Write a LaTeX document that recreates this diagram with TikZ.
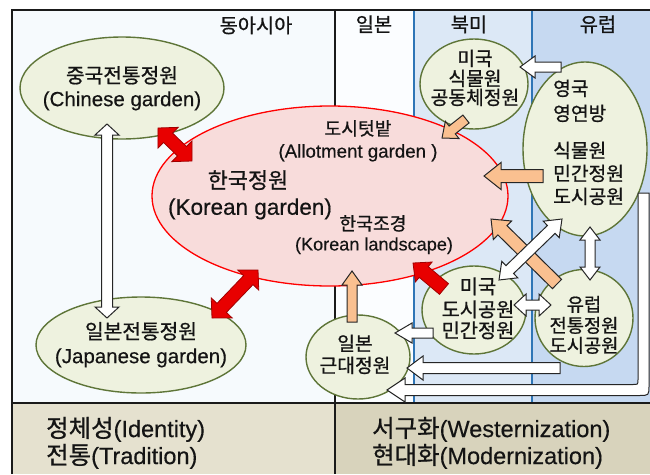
\documentclass[tikz,border=0pt]{standalone}
\usepackage{fontspec}
\setmainfont{Liberation Sans}[FakeBold=0.4]
\newfontfamily\kr{Noto Sans CJK KR}[FakeBold=0.8, Scale=1.04]
\usetikzlibrary{shapes.geometric}
\definecolor{lineK}{HTML}{1A1A1A}
\definecolor{eaBG}{HTML}{F6FAFD}
\definecolor{jpBG}{HTML}{FBFDFF}
\definecolor{naBG}{HTML}{DCE8F6}
\definecolor{euBG}{HTML}{C6D9F1}
\definecolor{botL}{HTML}{E5E1CF}
\definecolor{botR}{HTML}{D8D3BC}
\definecolor{blueL}{HTML}{2E75B6}
\definecolor{ellF}{HTML}{EEF2DF}
\definecolor{ellG}{HTML}{5E7538}
\definecolor{krF}{HTML}{F8DCDB}
\definecolor{krR}{HTML}{FF0000}
\definecolor{arRed}{HTML}{E80000}
\definecolor{arRedD}{HTML}{A00000}
\definecolor{arOr}{HTML}{FAC090}
\definecolor{arK}{HTML}{262626}
\definecolor{txt}{HTML}{141414}

\newdimen\bxa \newdimen\bya \newdimen\bxb \newdimen\byb
\newcommand\arrowgeom[2]{%
  \pgfextractx{\bxa}{\pgfpointanchor{#1}{center}}%
  \pgfextracty{\bya}{\pgfpointanchor{#1}{center}}%
  \pgfextractx{\bxb}{\pgfpointanchor{#2}{center}}%
  \pgfextracty{\byb}{\pgfpointanchor{#2}{center}}%
  \pgfmathsetmacro\barang{atan2(\byb-\bya,\bxb-\bxa)}%
  \pgfmathsetmacro\barlen{veclen(\bxb-\bxa,\byb-\bya)}}
% single block arrow: style, from, to, shaft half width, head half width, head length
\newcommand\sarrow[6]{\arrowgeom{#2}{#3}%
  \draw[#1, shift={(\bxa,\bya)}, rotate=\barang]
    (0pt,-#4pt) -- ({\barlen pt-#6pt},-#4pt) -- ({\barlen pt-#6pt},-#5pt) -- (\barlen pt,0pt)
    -- ({\barlen pt-#6pt},#5pt) -- ({\barlen pt-#6pt},#4pt) -- (0pt,#4pt) -- cycle;}
% double block arrow
\newcommand\darrow[6]{\arrowgeom{#2}{#3}%
  \draw[#1, shift={(\bxa,\bya)}, rotate=\barang]
    (0pt,0pt) -- (#6pt,#5pt) -- (#6pt,#4pt) -- ({\barlen pt-#6pt},#4pt) -- ({\barlen pt-#6pt},#5pt)
    -- (\barlen pt,0pt) -- ({\barlen pt-#6pt},-#5pt) -- ({\barlen pt-#6pt},-#4pt) -- (#6pt,-#4pt)
    -- (#6pt,-#5pt) -- cycle;}

\tikzset{
  ell/.style={ellipse, draw=ellG, fill=ellF, line width=1.4pt, inner sep=0pt},
  kell/.style={ellipse, draw=krR, fill=krF, line width=1.3pt, inner sep=0pt},
  redar/.style={fill=arRed, draw=arRedD, line width=0.8pt, line join=miter},
  orar/.style={fill=arOr, draw=arK, line width=1pt, line join=miter},
  whar/.style={fill=white, draw=arK, line width=1pt, line join=miter},
  tx/.style={font=\fontsize{#1}{#1}\selectfont, inner sep=0pt, text=txt,
    text height=\fpeval{0.8*#1}pt, text depth=\fpeval{0.2*#1}pt},
}

\begin{document}
\begin{tikzpicture}[x=1pt, y=-1pt]
\useasboundingbox (0,0) rectangle (650,474);
% backgrounds
\fill[white] (0,0) rectangle (650,474);
\fill[eaBG] (12,10) rectangle (335,403);
\fill[jpBG] (335,10) rectangle (414,403);
\fill[naBG] (414,10) rectangle (532,403);
\fill[euBG] (532,10) rectangle (650,403);
\fill[botL] (12,403) rectangle (335,474);
\fill[botR] (335,403) rectangle (650,474);
\draw[blueL, line width=1.3pt] (414,10) -- (414,403) (532,10) -- (532,403);
\draw[lineK, line width=1.6pt] (335,10) -- (335,474);
\draw[lineK, line width=2pt] (12,474) -- (12,10) -- (650,10);
\draw[lineK, line width=2pt] (12,403) -- (650,403);

% ellipses
\node[ell, minimum width=204pt, minimum height=102pt] (cn) at (122,88) {};
\node[ell, minimum width=210pt, minimum height=96pt] (jp) at (141,345) {};
\node[kell, minimum width=356pt, minimum height=180pt] (kr) at (330,196) {};
\node[ell, minimum width=108pt, minimum height=90pt] (usb) at (474,84) {};
\node[ell, minimum width=124pt, minimum height=174pt] (uk) at (585,149) {};
\node[ell, minimum width=104pt, minimum height=88pt] (usp) at (474,310) {};
\node[ell, minimum width=98pt, minimum height=97pt] (eu) at (584,318) {};
\node[ell, minimum width=104pt, minimum height=84pt] (jm) at (358,357) {};

% arrow end points
\coordinate (cjA) at (107,124);  \coordinate (cjB) at (107,318);
\coordinate (ckA) at (158,128);  \coordinate (ckB) at (192,161);
\coordinate (jkA) at (212,318);  \coordinate (jkB) at (258,270);
\coordinate (upS) at (444,289);  \coordinate (upT) at (413,263);
\coordinate (ubS) at (466,119);  \coordinate (ubT) at (442,138);
\coordinate (ukS) at (543,176);  \coordinate (ukT) at (484,176);
\coordinate (euS) at (557,284);  \coordinate (euT) at (491,219);
\coordinate (jmS) at (352,322);  \coordinate (jmT) at (352,271);
\coordinate (uuS) at (561,67);   \coordinate (uuT) at (520,67);
\coordinate (dgA) at (499,280);  \coordinate (dgB) at (562,219);
\coordinate (veA) at (590,227);  \coordinate (veB) at (590,280);
\coordinate (hoA) at (514,305);  \coordinate (hoB) at (551,305);
\coordinate (pjS) at (433,333);  \coordinate (pjT) at (395,333);
\coordinate (ejS) at (560,368);  \coordinate (ejT) at (407,368);

% arrows
\darrow{whar}{cjA}{cjB}{5.5}{12}{11}
\darrow{redar}{ckA}{ckB}{6.5}{14.5}{14}
\darrow{redar}{jkA}{jkB}{6.5}{14.5}{14}
\sarrow{redar}{upS}{upT}{7}{13}{14}
\sarrow{orar}{ubS}{ubT}{5}{11}{13}
\sarrow{orar}{ukS}{ukT}{6.5}{13.5}{17}
\sarrow{orar}{euS}{euT}{6.5}{13}{16}
\sarrow{orar}{jmS}{jmT}{5}{10}{14}
\sarrow{whar}{uuS}{uuT}{5}{11}{15}
\darrow{whar}{dgA}{dgB}{5.5}{11.5}{15}
\darrow{whar}{veA}{veB}{5}{10}{13}
\darrow{whar}{hoA}{hoB}{5}{11}{12}
\sarrow{whar}{pjS}{pjT}{5}{10}{17}
\sarrow{whar}{ejS}{ejT}{5.5}{12}{16}
% bent arrow from UK down and back to Japan
\draw[whar] (387,390) -- (405,378) -- (405,384.5) -- (633,384.5) .. controls (638,384.5) .. (638,379.5)
  -- (638,193) -- (649,193) -- (649,385.5) .. controls (649,395.5) .. (639,395.5)
  -- (405,395.5) -- (405,402) -- cycle;

% headers
\node[tx=19] (hEA) at (256,27) {\kr 동아시아};
\node[tx=19] (hJP) at (374,26) {\kr 일본};
\node[tx=19] (hNA) at (469,26) {\kr 북미};
\node[tx=19] (hEU) at (598,26) {\kr 유럽};

% texts
\node[tx=19.5] (cn1) at (122,77) {\kr 중국전통정원};
\node[tx=20.5] (cn2) at (122,100) {(Chinese garden)};
\node[tx=19.5] (jp1) at (141,333) {\kr 일본전통정원};
\node[tx=20.5] (jp2) at (141,357) {(Japanese garden)};
\node[tx=21] (kr1) at (248,182) {\kr 한국정원};
\node[tx=22.5] (kr2) at (250,208) {(Korean garden)};
\node[tx=17.5] (al1) at (358,130) {\kr 도시텃밭};
\node[tx=18.7] (al2) at (358,152) {(Allotment garden )};
\node[tx=17.5] (ls1) at (373,225) {\kr 한국조경};
\node[tx=18.1] (ls2) at (374,245) {(Korean landscape)};
\node[tx=18.5] (ub1) at (475,60) {\kr 미국};
\node[tx=18.5] (ub2) at (475,80) {\kr 식물원};
\node[tx=18.5] (ub3) at (475,99) {\kr 공동체정원};
\node[tx=18.5, anchor=west] (uk1) at (553,90) {\kr 영국};
\node[tx=18.5, anchor=west] (uk2) at (553,115) {\kr 영연방};
\node[tx=18.5, anchor=west] (uk3) at (553,152) {\kr 식물원};
\node[tx=18.5, anchor=west] (uk4) at (553,175) {\kr 민간정원};
\node[tx=18.5, anchor=west] (uk5) at (553,198) {\kr 도시공원};
\node[tx=19] (up1) at (478,288) {\kr 미국};
\node[tx=19] (up2) at (478,311) {\kr 도시공원};
\node[tx=19] (up3) at (478,332) {\kr 민간정원};
\node[tx=18] (eu1) at (584,306) {\kr 유럽};
\node[tx=18] (eu2) at (584,327) {\kr 전통정원};
\node[tx=18] (eu3) at (584,347) {\kr 도시공원};
\node[tx=18.5] (jm1) at (355,345) {\kr 일본};
\node[tx=18.5] (jm2) at (355,367) {\kr 근대정원};

% bottom band
\node[tx=23.5, anchor=west] (b1) at (46,430) {{\kr 정체성}(Identity)};
\node[tx=23.5, anchor=west] (b2) at (46,457) {{\kr 전통}(Tradition)};
\node[tx=23.5, anchor=west] (b3) at (372,430) {{\kr 서구화}(Westernization)};
\node[tx=23.5, anchor=west] (b4) at (372,457) {{\kr 현대화}(Modernization)};
\end{tikzpicture}
\end{document}
